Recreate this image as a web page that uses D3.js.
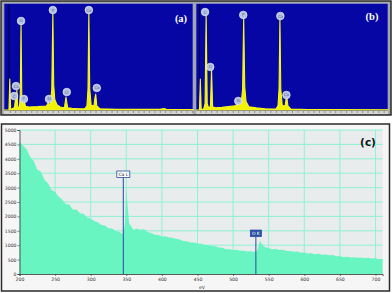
<!DOCTYPE html>
<html><head><meta charset="utf-8">
<script src="https://cdn.jsdelivr.net/npm/d3@7"></script>
<style>body{margin:0;background:#fff}svg{display:block}</style></head>
<body>
<svg id="c" width="392" height="293"></svg>
<script>
// ---- Panel (a) EDS spectrum (keV, counts)
const aKeV   =[-0.27,-0.04,0.0,0.04,0.12,0.22,0.26,0.3,0.33,0.37,0.45,0.49,0.525,0.56,0.62,0.68,0.74,0.9,1.1,1.3,1.5,1.7,1.76,1.8,1.84,1.9,1.96,2.01,2.05,2.1,2.2,2.35,2.55,2.62,2.7,2.9,3.2,3.5,3.6,3.65,3.69,3.73,3.8,3.93,3.97,4.01,4.06,4.2,4.6,5.0,6.0,7.0,7.2,7.3,8.0,8.55];
const aCounts=[0,0,295,8,12,25,95,25,190,25,30,150,830,120,40,76,35,28,30,32,35,38,55,76,50,60,200,933,240,100,50,28,20,124,22,16,12,12,40,200,933,200,40,45,110,152,40,12,9,7,6,6,14,6,5,5];
// ---- Panel (b)
const bKeV   =[-0.2,-0.04,0.0,0.04,0.15,0.22,0.27,0.32,0.4,0.47,0.52,0.57,0.7,1.0,1.3,1.6,1.7,1.74,1.78,1.9,1.96,2.01,2.06,2.12,2.25,2.6,3.0,3.5,3.6,3.65,3.69,3.73,3.8,3.93,3.98,4.01,4.06,4.2,5.0,6.0,8.7];
const bCounts=[0,0,295,6,6,60,914,60,12,40,390,30,22,25,32,40,50,67,60,70,200,886,220,80,30,20,12,10,40,200,876,200,40,40,110,124,40,8,5,4,3];
// peak label markers
const aLabKeV=[0.2,0.29,0.525,0.66,1.83,2.01,2.66,3.69,4.06];
const aLabCnt=[133,228,848,105,105,952,171,952,210];
const aLabTxt=["C","Ca","O","F","Si","P","Cl","Ca","Ca"];
const bLabKeV=[0.22,0.46,1.76,1.99,3.71,3.99];
const bLabCnt=[933,410,86,905,895,143];
const bLabTxt=["C","O","Si","P","Ca","Ca"];

// ---- Panel (c) EELS spectrum
const eV=[200,205,210,215,220,225,230,235,240,245,250,255,260,265,270,275,280,285,290,295,300,305,310,315,320,325,330,335,340,345,348,350,352,354,357,360,365,370,375,380,385,390,395,400,405,410,415,420,425,430,435,440,445,450,455,460,465,470,475,480,485,490,495,500,505,510,515,520,525,530,534,536,538,540,543,546,550,555,560,565,570,575,580,585,590,595,600,605,610,615,620,625,630,635,640,645,650,655,660,665,670,675,680,685,690,695,700,705,710];
const counts=[4590,4450,4330,4060,3920,3620,3560,3270,3150,2920,2850,2680,2590,2420,2410,2230,2240,2110,2090,1960,1920,1840,1800,1700,1680,1590,1580,1490,1470,1390,1700,2980,2300,1750,1650,1540,1570,1540,1550,1460,1420,1360,1350,1300,1310,1270,1260,1220,1200,1150,1140,1090,1090,1060,1050,1010,1010,970,960,920,910,860,860,830,840,810,810,780,790,760,800,1000,1150,1060,960,920,900,860,870,830,840,800,800,770,780,740,750,710,720,690,700,670,675,650,660,615,625,590,600,575,585,560,575,550,560,535,545,515,525];
const xTicks=[200,250,300,350,400,450,500,550,600,650,700];
const yTicks=[0,500,1000,1500,2000,2500,3000,3500,4000,4500,5000];
const markEV=[345.8,532];
const markTxt=["Ca L","O K"];

const svg=d3.select("#c");

// ---------- top panels ----------
svg.append("rect").attr("x",1).attr("y",1).attr("width",390).attr("height",114)
  .attr("fill","#a8a8a8").attr("stroke","#2a2a2a").attr("stroke-width",1.5);

function topPanel(x0,x1,dom,ks,cs,lk,lc,lt,tag,tagX,tagY){
  const x=d3.scaleLinear().domain(dom).range([x0,x1]);
  const y=d3.scaleLinear().domain([0,1000]).range([110,5]);
  const g=svg.append("g");
  g.append("rect").attr("x",x0).attr("y",3.5).attr("width",x1-x0).attr("height",107.5)
    .attr("fill","#0606a4").attr("stroke","#8c9ad8").attr("stroke-width",0.7);
  g.append("rect").attr("x",x0).attr("y",111).attr("width",x1-x0).attr("height",3).attr("fill","#d4d4d4");
  const ax=g.append("g").attr("transform","translate(0,111)")
    .call(d3.axisBottom(x).tickValues(d3.range(0,dom[1],0.25)).tickSize(2).tickFormat(""));
  ax.select(".domain").remove();
  ax.selectAll("line").attr("stroke","#555").attr("stroke-width",0.5);
  g.append("line").attr("x1",x(0)-0.8).attr("x2",x(0)-0.8).attr("y1",4).attr("y2",110)
    .attr("stroke","#000030").attr("stroke-width",0.8);
  const pts=ks.map((k,i)=>[k,cs[i]]);
  g.append("path").datum(pts)
    .attr("d",d3.area().x(d=>x(d[0])).y0(y(0)).y1(d=>y(d[1])))
    .attr("fill","#f2f200").attr("stroke","#f6f620").attr("stroke-width",1.1)
    .attr("stroke-linejoin","round");
  lk.forEach((k,i)=>{
    g.append("circle").attr("cx",x(k)).attr("cy",y(lc[i])).attr("r",3.8)
      .attr("fill","#b4c2e0").attr("stroke","#e8eeff").attr("stroke-width",0.7);
    g.append("text").attr("x",x(k)).attr("y",y(lc[i])+1.5).attr("text-anchor","middle")
      .attr("font-family","DejaVu Sans").attr("font-size",4).attr("fill","#5a6a9c").text(lt[i]);
  });
  g.append("text").attr("x",tagX).attr("y",tagY).attr("text-anchor","middle")
    .attr("font-family","Liberation Serif").attr("font-weight","bold").attr("font-size",10.5)
    .attr("fill","#ffffff").text(tag);
}
topPanel(4,193,[-0.27,8.55],aKeV,aCounts,aLabKeV,aLabCnt,aLabTxt,"(a)",181,22);
topPanel(196,388,[-0.2,8.7],bKeV,bCounts,bLabKeV,bLabCnt,bLabTxt,"(b)",372,20);

// ---------- bottom panel ----------
svg.append("rect").attr("x",1.5).attr("y",124).attr("width",388).attr("height",167)
  .attr("fill","#f6f6f6").attr("stroke","#2a2a2a").attr("stroke-width",1.5);
const x=d3.scaleLinear().domain([200,710]).range([19.5,382.6]);
const y=d3.scaleLinear().domain([0,5000]).range([274,130]);
svg.append("rect").attr("x",x(200)).attr("y",y(5000)).attr("width",x(710)-x(200)).attr("height",y(0)-y(5000))
  .attr("fill","#e8ecec");
const grid=svg.append("g");
grid.selectAll("line.v").data(xTicks.slice(1)).join("line")
  .attr("x1",d=>x(d)).attr("x2",d=>x(d)).attr("y1",y(5000)).attr("y2",y(0))
  .attr("stroke","#8ef2d4").attr("stroke-width",1);
grid.selectAll("line.h").data(yTicks.slice(1)).join("line")
  .attr("x1",x(200)).attr("x2",x(710)).attr("y1",d=>y(d)).attr("y2",d=>y(d))
  .attr("stroke","#8ef2d4").attr("stroke-width",1);
const spec=eV.map((e,i)=>[e,counts[i]]);
svg.append("path").datum(spec)
  .attr("d",d3.area().x(d=>x(d[0])).y0(y(0)).y1(d=>y(d[1])))
  .attr("fill","#68f5c2");
markEV.forEach((e,i)=>{
  const top=i===0?y(3350):y(1300);
  svg.append("line").attr("x1",x(e)).attr("x2",x(e)).attr("y1",top).attr("y2",y(0))
    .attr("stroke","#2a48a0").attr("stroke-width",1);
  const w=i===0?13:11;
  svg.append("rect").attr("x",x(e)-w/2).attr("y",top-6.5).attr("width",w).attr("height",6.5)
    .attr("fill",i===0?"#ffffff":"#2a52a4").attr("stroke","#2a48a0").attr("stroke-width",0.8);
  svg.append("text").attr("x",x(e)).attr("y",top-1.6).attr("text-anchor","middle")
    .attr("font-family","DejaVu Sans").attr("font-size",4.5)
    .attr("fill",i===0?"#222":"#ffffff").text(markTxt[i]);
});
const xa=svg.append("g").attr("transform",`translate(0,${y(0)})`)
  .call(d3.axisBottom(x).tickValues(xTicks).tickSize(2).tickPadding(1.5).tickFormat(d3.format("d")));
const ya=svg.append("g").attr("transform",`translate(${x(200)},0)`)
  .call(d3.axisLeft(y).tickValues(yTicks).tickSize(2).tickPadding(1).tickFormat(d3.format("d")));
[xa,ya].forEach(a=>{
  a.select(".domain").attr("stroke","#333").attr("stroke-width",0.8);
  a.selectAll("line").attr("stroke","#333").attr("stroke-width",0.6);
  a.selectAll("text").attr("font-family","DejaVu Sans").attr("font-size",4.6).attr("fill","#333");
});
svg.append("text").attr("x",202).attr("y",288.5).attr("text-anchor","middle")
  .attr("font-family","DejaVu Sans").attr("font-size",4.6).attr("fill","#333").text("eV");
svg.append("text").attr("x",368).attr("y",145.5).attr("text-anchor","middle")
  .attr("font-family","DejaVu Sans").attr("font-weight","bold").attr("font-size",10.5)
  .attr("fill","#111").text("(c)");
</script>
</body></html>
